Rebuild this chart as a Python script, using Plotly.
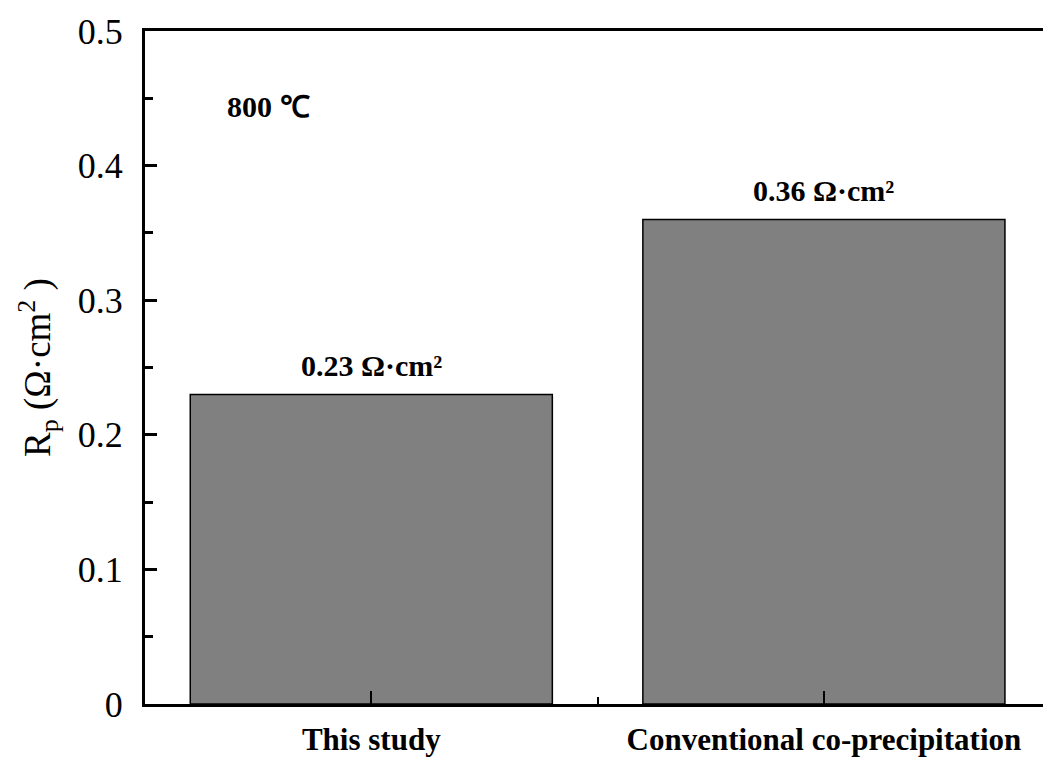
import plotly.graph_objects as go

categories = ["This study", "Conventional co-precipitation"]
rp_values = [0.23, 0.36]
y_ticks = [0, 0.1, 0.2, 0.3, 0.4, 0.5]
y_tick_labels = ["0", "0.1", "0.2", "0.3", "0.4", "0.5"]
temperature_label = "800 ℃"

FONT = "Liberation Serif, Times New Roman, serif"
xpos = list(range(len(categories)))

W, H = 1043, 762
L, R, T, B = 145, 0, 31, 58
pw, ph = W - L - R, H - T - B
cat_spacing_px = 452.6
xmax = -0.5 + pw / cat_spacing_px

fig = go.Figure()
fig.add_trace(go.Bar(
    x=xpos, y=rp_values, width=0.8,
    marker=dict(color="#808080", line=dict(color="black", width=1.5)),
    showlegend=False,
))

for xi, v in zip(xpos, rp_values):
    fig.add_annotation(
        x=xi, y=v, xref="x", yref="y",
        text=f"{v:.2f} Ω·cm²", showarrow=False,
        xanchor="center", yanchor="bottom", yshift=10,
        font=dict(family=FONT, size=30, color="black", weight="bold"),
    )

fig.add_annotation(
    x=(268 - L) / pw, y=1 - (106 - T) / ph, xref="paper", yref="paper",
    xanchor="center", yanchor="middle",
    text=temperature_label, showarrow=False,
    font=dict(family=FONT, size=30, color="black", weight="bold"),
)

fig.update_layout(
    width=W, height=H,
    margin=dict(l=L, r=R, t=T, b=B, autoexpand=False),
    paper_bgcolor="white", plot_bgcolor="white",
    xaxis=dict(
        range=[-0.5, xmax], tickmode="array", tickvals=xpos, ticktext=categories,
        showline=True, linecolor="black", linewidth=3, mirror=True,
        ticks="inside", ticklen=13, tickwidth=2, tickcolor="black",
        minor=dict(tickvals=[0.5], ticks="inside", ticklen=7, tickwidth=2, tickcolor="black"),
        tickfont=dict(family=FONT, size=31, color="black", weight="bold"),
        ticklabelstandoff=6,
        showgrid=False, zeroline=False, fixedrange=True,
    ),
    yaxis=dict(
        range=[0, 0.5], tickmode="array", tickvals=y_ticks, ticktext=y_tick_labels,
        showline=True, linecolor="black", linewidth=3, mirror=False,
        ticks="inside", ticklen=12, tickwidth=3, tickcolor="black",
        minor=dict(dtick=0.05, tick0=0, ticks="inside", ticklen=8, tickwidth=3, tickcolor="black"),
        tickfont=dict(family=FONT, size=36, color="black"),
        ticklabelstandoff=12,
        title=dict(text="R<sub>p</sub> (Ω·cm<sup>2</sup> )",
                   font=dict(family=FONT, size=37, color="black"), standoff=16),
        showgrid=False, zeroline=False, fixedrange=True,
    ),
)

fig.write_html("out.html")
